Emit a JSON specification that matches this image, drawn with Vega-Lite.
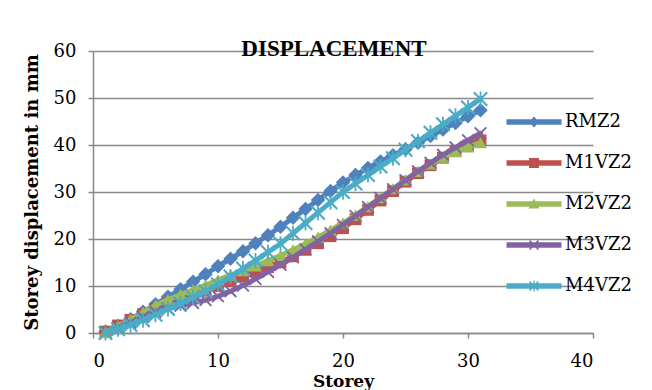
{
  "$schema": "https://vega.github.io/schema/vega-lite/v6.json",
  "width": 500,
  "height": 282,
  "autosize": "none",
  "padding": {"left": 93, "top": 51, "right": 59, "bottom": 57},
  "background": "white",
  "title": {
    "text": "DISPLACEMENT",
    "font": "Liberation Serif",
    "fontSize": 23,
    "fontWeight": "bold",
    "color": "#000000",
    "anchor": "middle",
    "baseline": "alphabetic",
    "offset": 0,
    "dy": 37,
    "dx": -9
  },
  "config": {
    "view": {"stroke": null}
  },
  "data": {
    "values": [
      {"storey": 1, "RMZ2": 0.3, "M1VZ2": 0.3, "M2VZ2": 0.2, "M3VZ2": 0.0, "M4VZ2": 0.0},
      {"storey": 2, "RMZ2": 1.5, "M1VZ2": 1.6, "M2VZ2": 1.5, "M3VZ2": 1.1, "M4VZ2": 0.8},
      {"storey": 3, "RMZ2": 2.9, "M1VZ2": 2.8, "M2VZ2": 2.9, "M3VZ2": 2.2, "M4VZ2": 1.7},
      {"storey": 4, "RMZ2": 4.5, "M1VZ2": 4.0, "M2VZ2": 4.4, "M3VZ2": 3.4, "M4VZ2": 2.7},
      {"storey": 5, "RMZ2": 6.1, "M1VZ2": 5.2, "M2VZ2": 5.9, "M3VZ2": 4.5, "M4VZ2": 3.9},
      {"storey": 6, "RMZ2": 7.7, "M1VZ2": 6.2, "M2VZ2": 7.1, "M3VZ2": 5.2, "M4VZ2": 5.1},
      {"storey": 7, "RMZ2": 9.3, "M1VZ2": 7.2, "M2VZ2": 8.2, "M3VZ2": 5.8, "M4VZ2": 6.3},
      {"storey": 8, "RMZ2": 10.9, "M1VZ2": 8.1, "M2VZ2": 9.2, "M3VZ2": 6.4, "M4VZ2": 7.6},
      {"storey": 9, "RMZ2": 12.5, "M1VZ2": 9.0, "M2VZ2": 10.2, "M3VZ2": 7.0, "M4VZ2": 8.9},
      {"storey": 10, "RMZ2": 14.2, "M1VZ2": 10.0, "M2VZ2": 11.3, "M3VZ2": 7.8, "M4VZ2": 10.3},
      {"storey": 11, "RMZ2": 15.8, "M1VZ2": 11.0, "M2VZ2": 12.3, "M3VZ2": 8.9, "M4VZ2": 12.0},
      {"storey": 12, "RMZ2": 17.4, "M1VZ2": 12.0, "M2VZ2": 13.3, "M3VZ2": 10.1, "M4VZ2": 13.7},
      {"storey": 13, "RMZ2": 19.1, "M1VZ2": 13.0, "M2VZ2": 14.3, "M3VZ2": 11.5, "M4VZ2": 15.4},
      {"storey": 14, "RMZ2": 20.8, "M1VZ2": 14.0, "M2VZ2": 15.4, "M3VZ2": 13.0, "M4VZ2": 17.2},
      {"storey": 15, "RMZ2": 22.6, "M1VZ2": 15.0, "M2VZ2": 16.5, "M3VZ2": 14.5, "M4VZ2": 19.0},
      {"storey": 16, "RMZ2": 24.5, "M1VZ2": 16.3, "M2VZ2": 17.7, "M3VZ2": 16.1, "M4VZ2": 21.2},
      {"storey": 17, "RMZ2": 26.4, "M1VZ2": 17.7, "M2VZ2": 19.0, "M3VZ2": 17.8, "M4VZ2": 23.4},
      {"storey": 18, "RMZ2": 28.3, "M1VZ2": 19.1, "M2VZ2": 20.4, "M3VZ2": 19.5, "M4VZ2": 25.6},
      {"storey": 19, "RMZ2": 30.2, "M1VZ2": 20.6, "M2VZ2": 21.9, "M3VZ2": 21.2, "M4VZ2": 27.8},
      {"storey": 20, "RMZ2": 32.0, "M1VZ2": 22.3, "M2VZ2": 23.4, "M3VZ2": 23.0, "M4VZ2": 30.0},
      {"storey": 21, "RMZ2": 33.6, "M1VZ2": 24.2, "M2VZ2": 25.1, "M3VZ2": 24.9, "M4VZ2": 31.8},
      {"storey": 22, "RMZ2": 35.1, "M1VZ2": 26.2, "M2VZ2": 26.9, "M3VZ2": 26.8, "M4VZ2": 33.6},
      {"storey": 23, "RMZ2": 36.5, "M1VZ2": 28.2, "M2VZ2": 28.8, "M3VZ2": 28.7, "M4VZ2": 35.4},
      {"storey": 24, "RMZ2": 37.8, "M1VZ2": 30.2, "M2VZ2": 30.7, "M3VZ2": 30.6, "M4VZ2": 37.2},
      {"storey": 25, "RMZ2": 39.1, "M1VZ2": 32.2, "M2VZ2": 32.6, "M3VZ2": 32.5, "M4VZ2": 39.0},
      {"storey": 26, "RMZ2": 40.5, "M1VZ2": 34.0, "M2VZ2": 34.4, "M3VZ2": 34.4, "M4VZ2": 40.8},
      {"storey": 27, "RMZ2": 41.9, "M1VZ2": 35.7, "M2VZ2": 36.0, "M3VZ2": 36.2, "M4VZ2": 42.6},
      {"storey": 28, "RMZ2": 43.3, "M1VZ2": 37.3, "M2VZ2": 37.4, "M3VZ2": 37.9, "M4VZ2": 44.4},
      {"storey": 29, "RMZ2": 44.7, "M1VZ2": 38.7, "M2VZ2": 38.6, "M3VZ2": 39.5, "M4VZ2": 46.2},
      {"storey": 30, "RMZ2": 46.1, "M1VZ2": 39.9, "M2VZ2": 39.6, "M3VZ2": 41.0, "M4VZ2": 48.0},
      {"storey": 31, "RMZ2": 47.4, "M1VZ2": 41.0, "M2VZ2": 40.5, "M3VZ2": 42.5, "M4VZ2": 49.8}
    ]
  },
  "transform": [
    {"fold": ["RMZ2", "M1VZ2", "M2VZ2", "M3VZ2", "M4VZ2"], "as": ["series", "value"]}
  ],
  "encoding": {
    "x": {
      "field": "storey",
      "type": "quantitative",
      "scale": {"domain": [0, 40], "nice": false, "zero": true},
      "axis": {
        "title": "Storey",
        "values": [0, 10, 20, 30, 40],
        "grid": false,
        "domainColor": "#898989",
        "domainWidth": 1.5,
        "tickColor": "#898989",
        "tickWidth": 1.5,
        "tickSize": 5,
        "labelFont": "DejaVu Serif",
        "labelFontSize": 18,
        "labelColor": "#000000",
        "labelPadding": 14,
        "titleFont": "DejaVu Serif",
        "titleFontSize": 17,
        "titleFontWeight": "bold",
        "titleColor": "#000000",
        "titlePadding": 3,
        "titleX": 250
      }
    },
    "y": {
      "field": "value",
      "type": "quantitative",
      "scale": {"domain": [0, 60], "nice": false, "zero": true},
      "axis": {
        "title": "Storey displacement in mm",
        "values": [0, 10, 20, 30, 40, 50, 60],
        "grid": true,
        "gridColor": "#898989",
        "gridWidth": 1.5,
        "domainColor": "#898989",
        "domainWidth": 1.5,
        "tickColor": "#898989",
        "tickWidth": 1.5,
        "tickSize": 5,
        "labelFont": "DejaVu Serif",
        "labelFontSize": 18,
        "labelColor": "#000000",
        "labelPadding": 12,
        "titleFont": "DejaVu Serif",
        "titleFontSize": 18,
        "titleFontWeight": "bold",
        "titleColor": "#000000",
        "titlePadding": 12
      }
    }
  },
  "layer": [
    {
      "transform": [{"filter": "datum.series === 'RMZ2'"}],
      "mark": {"type": "line", "color": "#4F81BD", "strokeWidth": 5, "strokeCap": "round", "strokeJoin": "round"}
    },
    {
      "transform": [{"filter": "datum.series === 'RMZ2'"}],
      "mark": {"type": "point", "shape": "diamond", "filled": true, "color": "#4F81BD", "size": 210, "opacity": 1}
    },
    {
      "transform": [{"filter": "datum.series === 'M1VZ2'"}],
      "mark": {"type": "line", "color": "#C0504D", "strokeWidth": 5, "strokeCap": "round", "strokeJoin": "round"}
    },
    {
      "transform": [{"filter": "datum.series === 'M1VZ2'"}],
      "mark": {"type": "point", "shape": "square", "filled": true, "color": "#C0504D", "size": 140, "opacity": 1}
    },
    {
      "transform": [{"filter": "datum.series === 'M2VZ2'"}],
      "mark": {"type": "line", "color": "#9BBB59", "strokeWidth": 5, "strokeCap": "round", "strokeJoin": "round"}
    },
    {
      "transform": [{"filter": "datum.series === 'M2VZ2'"}],
      "mark": {"type": "point", "shape": "triangle-up", "filled": true, "color": "#9BBB59", "size": 170, "opacity": 1}
    },
    {
      "transform": [{"filter": "datum.series === 'M3VZ2'"}],
      "mark": {"type": "line", "color": "#8064A2", "strokeWidth": 5, "strokeCap": "round", "strokeJoin": "round"}
    },
    {
      "transform": [{"filter": "datum.series === 'M3VZ2'"}],
      "mark": {"type": "point", "shape": "M-1,-0.8L-0.8,-1L1,0.8L0.8,1Z M0.8,-1L1,-0.8L-0.8,1L-1,0.8Z", "filled": true, "color": "#8064A2", "size": 169, "opacity": 1}
    },
    {
      "transform": [{"filter": "datum.series === 'M4VZ2'"}],
      "mark": {"type": "line", "color": "#4BACC6", "strokeWidth": 5, "strokeCap": "round", "strokeJoin": "round"}
    },
    {
      "transform": [{"filter": "datum.series === 'M4VZ2'"}],
      "mark": {"type": "point", "shape": "M-1,-0.8L-0.8,-1L1,0.8L0.8,1Z M0.8,-1L1,-0.8L-0.8,1L-1,0.8Z M-0.12,-1H0.12V1H-0.12Z", "filled": true, "color": "#4BACC6", "size": 225, "opacity": 1}
    },
    {
      "mark": {"type": "point", "filled": true, "opacity": 0, "size": 484},
      "encoding": {
        "color": {
          "field": "series",
          "type": "nominal",
          "scale": {
            "domain": ["RMZ2", "M1VZ2", "M2VZ2", "M3VZ2", "M4VZ2"],
            "range": ["#4F81BD", "#C0504D", "#9BBB59", "#8064A2", "#4BACC6"]
          },
          "legend": {
            "title": null,
            "orient": "none",
            "legendX": 430,
            "legendY": 60,
            "padding": 0,
            "symbolSize": 484,
            "symbolOpacity": 1,
            "symbolStrokeWidth": 0,
            "labelFont": "DejaVu Serif",
            "labelFontSize": 18,
            "labelColor": "#000000",
            "labelOffset": 20,
            "rowPadding": 21,
            "encode": {"symbols": {"update": {"opacity": {"value": 1}}}}
          }
        },
        "shape": {
          "field": "series",
          "type": "nominal",
          "scale": {
            "domain": ["RMZ2", "M1VZ2", "M2VZ2", "M3VZ2", "M4VZ2"],
            "range": [
              "M-2.5,-0.25H2.5V0.25H-2.5Z M0,-0.5L0.45,0L0,0.5L-0.45,0Z",
              "M-2.5,-0.25H2.5V0.25H-2.5Z M-0.45,-0.45H0.45V0.45H-0.45Z",
              "M-2.5,-0.25H2.5V0.25H-2.5Z M0,-0.5L0.5,0.4H-0.5Z",
              "M-2.5,-0.25H2.5V0.25H-2.5Z M-0.45,-0.35L-0.35,-0.45L0.45,0.35L0.35,0.45Z M0.35,-0.45L0.45,-0.35L-0.35,0.45L-0.45,0.35Z",
              "M-2.5,-0.25H2.5V0.25H-2.5Z M-0.45,-0.35L-0.35,-0.45L0.45,0.35L0.35,0.45Z M0.35,-0.45L0.45,-0.35L-0.35,0.45L-0.45,0.35Z M-0.06,-0.5H0.06V0.5H-0.06Z"
            ]
          }
        }
      }
    }
  ]
}
